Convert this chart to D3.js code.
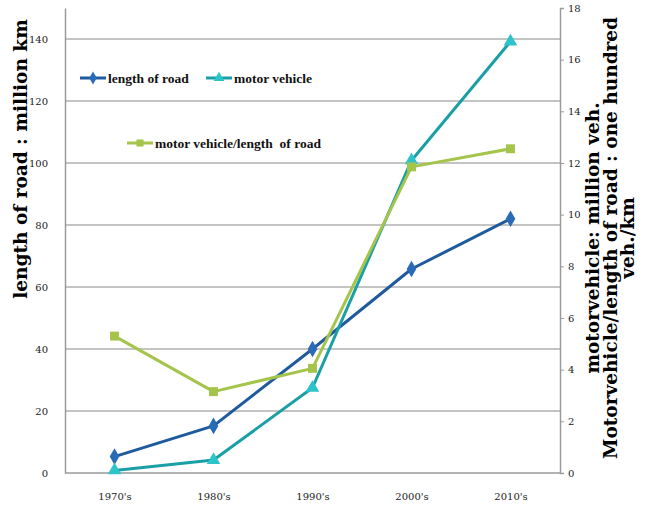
<!DOCTYPE html>
<html>
<head>
<meta charset="utf-8">
<script src="https://cdn.jsdelivr.net/npm/d3@7"></script>
<style>
  body { margin: 0; background: #fff; }
  svg text { font-family: "DejaVu Serif", serif; }
</style>
</head>
<body>
<div id="chart"></div>
<script>
// decades along the bottom
var decades = ["1970's", "1980's", "1990's", "2000's", "2010's"];
// left axis: million km
var roadLength = [5.3, 15.2, 40, 65.8, 82];
// right axis: million vehicles
var motorVehicle = [0.1, 0.5, 3.3, 12.1, 16.7];
// right axis: vehicles per km (hundreds)
var vehPerRoad = [5.3, 3.15, 4.05, 11.85, 12.55];
var leftTicks = [0, 20, 40, 60, 80, 100, 120, 140];
var rightTicks = [0, 2, 4, 6, 8, 10, 12, 14, 16, 18];

(function () {
    var width = 648, height = 508;
    var margin = { top: 8, right: 88, bottom: 35, left: 65 };

    var svg = d3.select('#chart')
                .append('svg')
                .attr('width', width)
                .attr('height', height);

    var w = width - margin.left - margin.right,
        h = height - margin.top - margin.bottom;

    var g = svg.append('g')
               .attr('transform', 'translate(' + margin.left + ',' + margin.top + ')');

    var x = d3.scalePoint().domain(decades).range([0, w]).padding(0.5);
    var yL = d3.scaleLinear().domain([0, 150]).range([h, 0]);
    var yR = d3.scaleLinear().domain([0, 18]).range([h, 0]);

    // gridlines from the left axis
    g.selectAll('.grid')
        .data(leftTicks.filter(function (d) { return d > 0; }))
        .enter()
        .append('line')
        .attr('x1', 0).attr('x2', w)
        .attr('y1', function (d) { return yL(d); })
        .attr('y2', function (d) { return yL(d); })
        .attr('stroke', '#8a8a8a')
        .attr('stroke-width', 1.2);

    // left axis
    var left = g.append('g')
        .call(d3.axisLeft(yL).tickValues(leftTicks).tickSize(0).tickPadding(17));
    left.select('.domain').attr('stroke', '#9a9a9a').attr('stroke-width', 1.5);
    left.selectAll('text').style('font-size', '10px').attr('fill', '#222');

    // right axis
    var right = g.append('g')
        .attr('transform', 'translate(' + w + ',0)')
        .call(d3.axisRight(yR).tickValues(rightTicks).tickSize(4).tickSizeOuter(4).tickPadding(4));
    right.select('.domain').attr('stroke', '#9a9a9a').attr('stroke-width', 1.5);
    right.selectAll('line').attr('stroke', '#9a9a9a');
    right.selectAll('text').style('font-size', '10px').attr('fill', '#222');

    // bottom axis
    var bottom = g.append('g')
        .attr('transform', 'translate(0,' + h + ')')
        .call(d3.axisBottom(x).tickSize(0).tickSizeOuter(0).tickPadding(20));
    bottom.select('.domain').attr('stroke', '#9a9a9a').attr('stroke-width', 1.5)
        .attr('d', 'M0,0H' + w);
    bottom.selectAll('text').style('font-size', '10px').attr('fill', '#222');

    var series = [
        { name: 'length of road', values: roadLength, y: yL, line: '#1f5a9e', mark: '#2a6bb8', shape: d3.symbolDiamond },
        { name: 'motor vehicle', values: motorVehicle, y: yR, line: '#1a9fa6', mark: '#2cc3cb', shape: d3.symbolTriangle },
        { name: 'motor vehicle/length  of road', values: vehPerRoad, y: yR, line: '#a5c44c', mark: '#a5c44c', shape: d3.symbolSquare }
    ];

    series.forEach(function (s) {
        var line = d3.line()
            .x(function (d, i) { return x(decades[i]); })
            .y(function (d) { return s.y(d); });

        g.append('path')
            .datum(s.values)
            .attr('d', line)
            .attr('fill', 'none')
            .attr('stroke', s.line)
            .attr('stroke-width', 3)
            .attr('stroke-linejoin', 'round');

        g.selectAll(null)
            .data(s.values)
            .enter()
            .append('path')
            .attr('d', d3.symbol().type(s.shape).size(80))
            .attr('transform', function (d, i) { return 'translate(' + x(decades[i]) + ',' + s.y(d) + ')'; })
            .attr('fill', s.mark);
    });

    // legend
    var legendPos = [[80, 78], [206, 78], [127, 143]];
    series.forEach(function (s, i) {
        var lg = svg.append('g')
            .attr('transform', 'translate(' + legendPos[i][0] + ',' + legendPos[i][1] + ')');
        lg.append('line')
            .attr('x1', 0).attr('x2', 26)
            .attr('stroke', s.line).attr('stroke-width', 3);
        lg.append('path')
            .attr('d', d3.symbol().type(s.shape).size(50))
            .attr('transform', 'translate(13,0)')
            .attr('fill', s.mark);
        lg.append('text')
            .attr('x', 28)
            .attr('dy', '0.35em')
            .text(s.name)
            .style('font-family', '"Liberation Serif", serif')
            .style('font-weight', 'bold')
            .style('font-size', '13.5px')
            .style('white-space', 'pre')
            .attr('fill', '#111');
    });

    // axis titles
    svg.append('text')
        .attr('transform', 'translate(27,159) rotate(-90)')
        .attr('text-anchor', 'middle')
        .style('font-size', '18.5px')
        .style('font-weight', 'bold')
        .text('length of road : million km');

    var rightTitle = ['motorvehicle: million veh.',
                      'Motorvehicle/length of road : one hundred',
                      'veh./km'];
    svg.append('g')
        .attr('transform', 'translate(599,238) rotate(-90)')
        .selectAll('text')
        .data(rightTitle)
        .enter()
        .append('text')
        .attr('y', function (d, i) { return i * 17.5; })
        .attr('text-anchor', 'middle')
        .style('font-size', '18.5px')
        .style('font-weight', 'bold')
        .text(function (d) { return d; });
})();
</script>
</body>
</html>
